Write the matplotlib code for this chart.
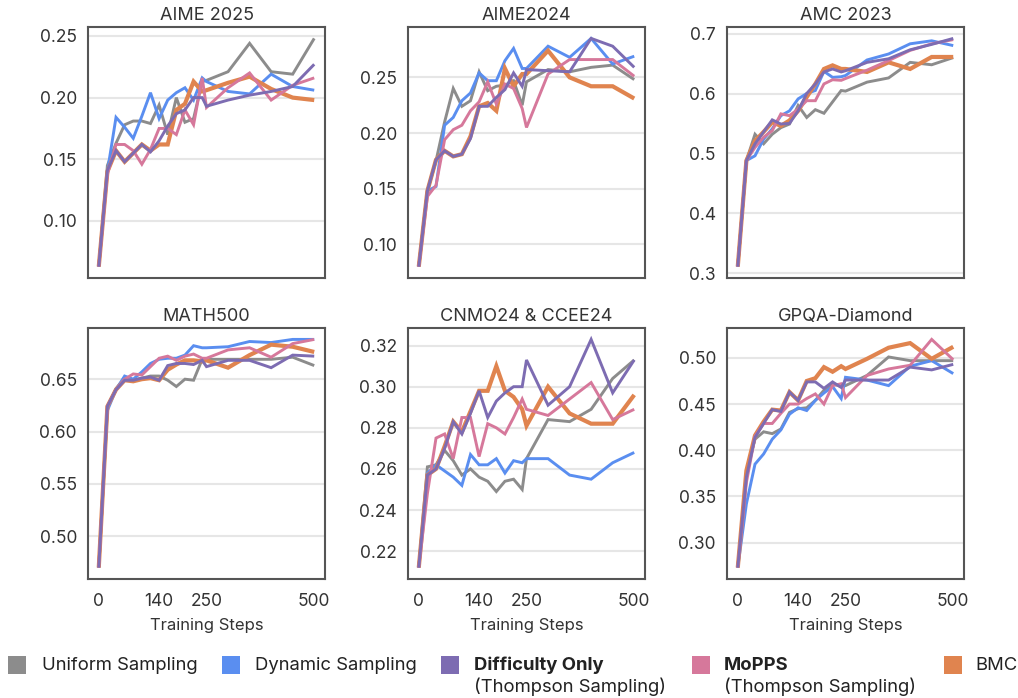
import matplotlib
matplotlib.use("Agg")
import matplotlib.pyplot as plt
from matplotlib.patches import Rectangle

plt.rcParams['font.family'] = ['Inter', 'DejaVu Sans']

steps = [0, 20, 40, 60, 80, 100, 120, 140, 160, 180, 200, 220, 240, 250, 300, 350, 400, 450, 500]
xticks = [0, 140, 250, 500]

methods = ["Uniform Sampling", "Dynamic Sampling", "Difficulty Only", "MoPPS", "BMC"]
subtitles = ["", "", "(Thompson Sampling)", "(Thompson Sampling)", ""]
colors = ["#8c8c8c", "#5a8ef0", "#7d6cb2", "#d6789b", "#e0844f"]

# AIME 2025
aime25_uniform = [0.063, 0.145, 0.163, 0.178, 0.181, 0.181, 0.179, 0.194, 0.170, 0.200, 0.180, 0.183, 0.213, 0.214, 0.221, 0.244, 0.221, 0.219, 0.248]
aime25_dynamic = [0.063, 0.140, 0.184, 0.176, 0.167, 0.185, 0.204, 0.183, 0.198, 0.204, 0.208, 0.198, 0.216, 0.213, 0.205, 0.203, 0.219, 0.209, 0.206]
aime25_difficulty = [0.063, 0.141, 0.157, 0.148, 0.155, 0.162, 0.156, 0.165, 0.177, 0.187, 0.190, 0.200, 0.200, 0.193, 0.198, 0.202, 0.205, 0.209, 0.227]
aime25_mopps = [0.063, 0.138, 0.162, 0.162, 0.157, 0.146, 0.158, 0.175, 0.175, 0.170, 0.190, 0.178, 0.216, 0.192, 0.208, 0.220, 0.198, 0.210, 0.216]
aime25_bmc = [0.063, 0.140, 0.157, 0.148, 0.155, 0.162, 0.157, 0.162, 0.162, 0.190, 0.195, 0.213, 0.205, 0.206, 0.212, 0.217, 0.207, 0.200, 0.198]

# AIME 2024
aime24_uniform = [0.080, 0.148, 0.175, 0.210, 0.240, 0.224, 0.229, 0.255, 0.238, 0.242, 0.243, 0.247, 0.225, 0.246, 0.257, 0.255, 0.259, 0.261, 0.248]
aime24_dynamic = [0.080, 0.148, 0.152, 0.207, 0.214, 0.229, 0.236, 0.254, 0.247, 0.247, 0.265, 0.276, 0.258, 0.258, 0.278, 0.268, 0.285, 0.262, 0.269]
aime24_difficulty = [0.080, 0.148, 0.176, 0.184, 0.179, 0.181, 0.195, 0.224, 0.224, 0.232, 0.239, 0.254, 0.242, 0.257, 0.256, 0.255, 0.285, 0.278, 0.259]
aime24_mopps = [0.080, 0.143, 0.153, 0.194, 0.203, 0.207, 0.220, 0.228, 0.246, 0.226, 0.244, 0.240, 0.222, 0.205, 0.253, 0.266, 0.266, 0.266, 0.251]
aime24_bmc = [0.080, 0.148, 0.176, 0.184, 0.179, 0.181, 0.197, 0.224, 0.227, 0.220, 0.258, 0.242, 0.253, 0.253, 0.274, 0.250, 0.242, 0.242, 0.231]

# AMC 2023
amc_uniform = [0.311, 0.488, 0.532, 0.516, 0.532, 0.543, 0.549, 0.580, 0.560, 0.573, 0.567, 0.586, 0.605, 0.604, 0.619, 0.626, 0.652, 0.648, 0.660]
amc_dynamic = [0.311, 0.488, 0.496, 0.524, 0.541, 0.563, 0.571, 0.591, 0.600, 0.605, 0.637, 0.627, 0.628, 0.630, 0.656, 0.666, 0.683, 0.688, 0.680]
amc_difficulty = [0.311, 0.488, 0.516, 0.536, 0.556, 0.549, 0.550, 0.571, 0.600, 0.616, 0.636, 0.641, 0.636, 0.638, 0.652, 0.658, 0.673, 0.682, 0.692]
amc_mopps = [0.311, 0.488, 0.510, 0.527, 0.538, 0.566, 0.563, 0.574, 0.588, 0.588, 0.616, 0.623, 0.622, 0.625, 0.639, 0.655, 0.672, 0.683, 0.690]
amc_bmc = [0.311, 0.488, 0.521, 0.536, 0.552, 0.546, 0.555, 0.571, 0.594, 0.616, 0.641, 0.647, 0.641, 0.641, 0.636, 0.652, 0.641, 0.661, 0.661]

# MATH500
math_uniform = [0.470, 0.624, 0.641, 0.651, 0.649, 0.651, 0.653, 0.653, 0.649, 0.643, 0.650, 0.649, 0.669, 0.669, 0.669, 0.669, 0.669, 0.671, 0.663]
math_dynamic = [0.470, 0.620, 0.640, 0.653, 0.650, 0.657, 0.665, 0.669, 0.670, 0.670, 0.673, 0.682, 0.680, 0.680, 0.681, 0.686, 0.685, 0.688, 0.688]
math_difficulty = [0.470, 0.624, 0.640, 0.649, 0.649, 0.651, 0.652, 0.649, 0.663, 0.665, 0.665, 0.664, 0.668, 0.662, 0.668, 0.668, 0.661, 0.673, 0.672]
math_mopps = [0.470, 0.624, 0.640, 0.650, 0.655, 0.654, 0.662, 0.670, 0.672, 0.668, 0.672, 0.674, 0.670, 0.670, 0.678, 0.680, 0.671, 0.684, 0.688]
math_bmc = [0.470, 0.624, 0.640, 0.649, 0.648, 0.650, 0.651, 0.649, 0.659, 0.664, 0.668, 0.668, 0.667, 0.668, 0.661, 0.673, 0.683, 0.681, 0.676]

# CNMO24 & CCEE24
cnmo_uniform = [0.212, 0.261, 0.262, 0.269, 0.264, 0.257, 0.260, 0.256, 0.254, 0.249, 0.254, 0.255, 0.250, 0.265, 0.284, 0.283, 0.289, 0.304, 0.313]
cnmo_dynamic = [0.212, 0.258, 0.262, 0.259, 0.256, 0.252, 0.267, 0.262, 0.262, 0.265, 0.258, 0.264, 0.263, 0.265, 0.265, 0.257, 0.255, 0.263, 0.268]
cnmo_difficulty = [0.212, 0.257, 0.260, 0.270, 0.283, 0.277, 0.287, 0.298, 0.285, 0.293, 0.297, 0.300, 0.300, 0.313, 0.291, 0.300, 0.323, 0.297, 0.313]
cnmo_mopps = [0.212, 0.248, 0.275, 0.277, 0.265, 0.285, 0.285, 0.266, 0.282, 0.280, 0.277, 0.285, 0.294, 0.289, 0.286, 0.294, 0.302, 0.284, 0.289]
cnmo_bmc = [0.212, 0.257, 0.260, 0.271, 0.283, 0.278, 0.288, 0.298, 0.298, 0.310, 0.298, 0.295, 0.289, 0.281, 0.300, 0.287, 0.282, 0.282, 0.296]

# GPQA-Diamond
gpqa_uniform = [0.273, 0.376, 0.412, 0.420, 0.418, 0.423, 0.441, 0.445, 0.446, 0.454, 0.465, 0.472, 0.469, 0.470, 0.481, 0.501, 0.497, 0.497, 0.497]
gpqa_dynamic = [0.273, 0.342, 0.385, 0.396, 0.412, 0.422, 0.439, 0.446, 0.443, 0.454, 0.462, 0.469, 0.456, 0.479, 0.476, 0.470, 0.491, 0.497, 0.483]
gpqa_difficulty = [0.273, 0.371, 0.414, 0.429, 0.444, 0.442, 0.463, 0.454, 0.474, 0.474, 0.467, 0.474, 0.468, 0.476, 0.476, 0.476, 0.490, 0.487, 0.493]
gpqa_mopps = [0.273, 0.365, 0.415, 0.429, 0.429, 0.440, 0.450, 0.450, 0.456, 0.461, 0.450, 0.470, 0.472, 0.457, 0.481, 0.488, 0.492, 0.520, 0.498]
gpqa_bmc = [0.273, 0.378, 0.416, 0.431, 0.444, 0.443, 0.463, 0.454, 0.475, 0.478, 0.490, 0.485, 0.491, 0.488, 0.499, 0.511, 0.516, 0.499, 0.512]

panels = [
    ("AIME 2025", [aime25_uniform, aime25_dynamic, aime25_difficulty, aime25_mopps, aime25_bmc],
     [0.10, 0.15, 0.20, 0.25], "{:.2f}"),
    ("AIME2024", [aime24_uniform, aime24_dynamic, aime24_difficulty, aime24_mopps, aime24_bmc],
     [0.10, 0.15, 0.20, 0.25], "{:.2f}"),
    ("AMC 2023", [amc_uniform, amc_dynamic, amc_difficulty, amc_mopps, amc_bmc],
     [0.3, 0.4, 0.5, 0.6, 0.7], "{:.1f}"),
    ("MATH500", [math_uniform, math_dynamic, math_difficulty, math_mopps, math_bmc],
     [0.50, 0.55, 0.60, 0.65], "{:.2f}"),
    ("CNMO24 & CCEE24", [cnmo_uniform, cnmo_dynamic, cnmo_difficulty, cnmo_mopps, cnmo_bmc],
     [0.22, 0.24, 0.26, 0.28, 0.30, 0.32], "{:.2f}"),
    ("GPQA-Diamond", [gpqa_uniform, gpqa_dynamic, gpqa_difficulty, gpqa_mopps, gpqa_bmc],
     [0.30, 0.35, 0.40, 0.45, 0.50], "{:.2f}"),
]

# drawing order: uniform, dynamic, bmc, mopps, difficulty
order = [0, 1, 4, 3, 2]
widths = [2.1, 2.1, 2.1, 2.1, 3.0]

fig = plt.figure(figsize=(10.18, 6.98), dpi=100)
W, H = 1018, 698
lefts = [88, 408, 727]
tops = [27, 328]
aw, ah = 237, 251
text_color = "#333333"

for i, (title, series, yt, fmt) in enumerate(panels):
    row, col = divmod(i, 3)
    ax = fig.add_axes([lefts[col] / W, 1 - (tops[row] + ah) / H, aw / W, ah / H])
    for k in order:
        ax.plot(steps, series[k], color=colors[k], lw=widths[k],
                solid_joinstyle="miter", solid_capstyle="butt", zorder=3 + order.index(k))
    ax.margins(x=0.05, y=0.05)
    ax.set_yticks(yt)
    ax.set_yticklabels([fmt.format(v) for v in yt])
    ax.set_xticks(xticks)
    ax.grid(axis="y", color="#e6e6e6", lw=1.5, zorder=0)
    ax.set_axisbelow(True)
    for s in ax.spines.values():
        s.set_color("#555555")
        s.set_linewidth(1.5)
    ax.tick_params(axis="y", length=0, labelsize=12.5, colors=text_color, pad=8)
    ax.tick_params(axis="x", length=0, labelsize=12.5, colors=text_color, pad=10)
    ax.set_title(title, fontsize=13, color=text_color, pad=5)
    if row == 0:
        ax.tick_params(labelbottom=False)
    else:
        ax.set_xlabel("Training Steps", fontsize=12, color=text_color, labelpad=6)

# legend row
sq = 18
legend_x = [8, 222, 441, 692, 944]
text_x = [42, 255, 474, 724, 975]
yc = 665
for k in range(5):
    fig.patches.append(Rectangle((legend_x[k] / W, 1 - (yc + sq / 2) / H), sq / W, sq / H,
                                 transform=fig.transFigure, color=colors[k], lw=0))
    bold = bool(subtitles[k])
    fig.text(text_x[k] / W, 1 - yc / H, methods[k], fontsize=13.3,
             fontweight="bold" if bold else "normal", color="#222222",
             ha="left", va="center")
    if subtitles[k]:
        fig.text(text_x[k] / W, 1 - (yc + 22) / H, subtitles[k], fontsize=13.3,
                 color="#222222", ha="left", va="center")

fig.savefig("out.png", dpi=100)
